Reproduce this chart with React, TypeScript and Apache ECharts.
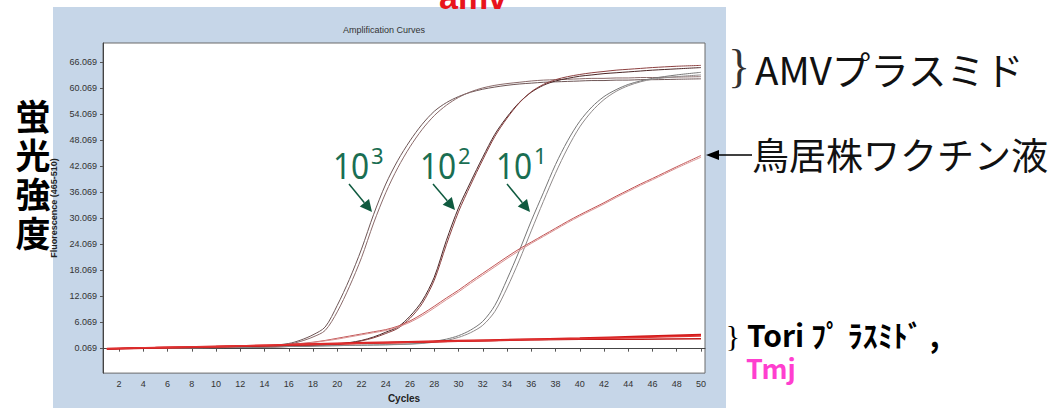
import React, { useEffect, useRef } from "react";
import * as echarts from "echarts";

// ---- data ----
const cycles = [1, 4, 8, 12, 14, 16, 17, 18, 19, 20, 21, 22, 23, 24, 25, 26, 27, 28, 29, 30, 31, 32, 33, 34, 35, 36, 37, 38, 39, 40, 41, 42, 43, 44, 45, 46, 48, 50];

const amv1000a = [0.0, 0.1, 0.2, 0.4, 0.6, 1.2, 2.0, 3.2, 5.0, 10.0, 16.0, 23.0, 31.0, 38.0, 43.5, 48.0, 51.8, 54.8, 56.8, 58.2, 59.2, 59.9, 60.4, 60.8, 61.1, 61.3, 61.5, 61.6, 61.7, 61.8, 61.9, 61.9, 62.0, 62.0, 62.1, 62.1, 62.2, 62.3];
const amv1000b = [0.0, 0.1, 0.2, 0.4, 0.5, 1.0, 1.7, 2.7, 4.2, 8.5, 14.3, 21.0, 29.0, 36.0, 41.8, 46.6, 50.6, 53.8, 56.2, 58.0, 59.3, 60.2, 60.8, 61.2, 61.5, 61.8, 62.0, 62.1, 62.2, 62.3, 62.4, 62.4, 62.5, 62.5, 62.6, 62.6, 62.7, 62.8];
const amv100a = [0.0, 0.1, 0.2, 0.3, 0.4, 0.5, 0.6, 0.7, 0.9, 1.1, 1.4, 1.9, 2.7, 3.8, 5.0, 7.5, 11.0, 16.5, 25.0, 32.5, 38.5, 44.2, 49.5, 53.5, 56.8, 59.2, 60.8, 61.8, 62.4, 62.9, 63.2, 63.5, 63.7, 63.9, 64.1, 64.3, 64.6, 64.9];
const amv100b = [0.0, 0.1, 0.2, 0.3, 0.4, 0.5, 0.6, 0.7, 0.8, 1.0, 1.3, 1.8, 2.5, 3.5, 4.7, 7.0, 10.4, 15.8, 24.0, 31.6, 37.8, 43.6, 49.0, 53.2, 56.7, 59.3, 61.0, 62.1, 62.8, 63.3, 63.7, 64.0, 64.3, 64.5, 64.7, 64.9, 65.2, 65.4];
const amv10a = [0.0, 0.1, 0.2, 0.3, 0.4, 0.5, 0.55, 0.6, 0.65, 0.7, 0.75, 0.8, 0.85, 0.9, 1.0, 1.1, 1.3, 1.7, 2.2, 3.0, 4.3, 6.3, 10.0, 16.0, 22.5, 29.5, 36.0, 42.5, 48.0, 52.5, 55.8, 58.2, 59.8, 61.0, 61.8, 62.4, 63.2, 63.8];
const amv10b = [0.0, 0.1, 0.2, 0.3, 0.4, 0.5, 0.55, 0.6, 0.65, 0.7, 0.75, 0.8, 0.85, 0.9, 0.95, 1.05, 1.2, 1.5, 1.9, 2.6, 3.7, 5.4, 8.6, 14.0, 20.3, 27.2, 34.0, 40.5, 46.3, 51.2, 54.8, 57.5, 59.4, 60.7, 61.6, 62.2, 62.8, 63.2];
const vaccineA = [0.0, 0.1, 0.3, 0.5, 0.7, 1.0, 1.2, 1.5, 1.9, 2.4, 2.9, 3.4, 3.9, 4.4, 5.2, 6.4, 8.0, 9.8, 11.7, 13.5, 15.5, 17.4, 19.3, 21.2, 23.0, 24.6, 26.2, 27.8, 29.4, 30.9, 32.3, 33.7, 35.2, 36.6, 38.0, 39.3, 42.0, 44.6];
const vaccineB = [0.0, 0.1, 0.3, 0.5, 0.6, 0.9, 1.1, 1.4, 1.8, 2.2, 2.7, 3.2, 3.7, 4.2, 5.0, 6.1, 7.6, 9.4, 11.3, 13.1, 15.1, 17.0, 18.9, 20.8, 22.6, 24.3, 25.9, 27.5, 29.1, 30.6, 32.0, 33.4, 34.9, 36.3, 37.7, 39.0, 41.7, 44.2];

const redCycles = [1, 5, 10, 15, 20, 25, 30, 35, 40, 45, 50];
const toriA = [0.0, 0.2, 0.5, 0.8, 1.2, 1.5, 1.8, 2.1, 2.4, 2.8, 3.2];
const toriB = [-0.1, 0.2, 0.45, 0.75, 1.1, 1.4, 1.7, 2.0, 2.2, 2.2, 2.3];
const tmj = [0.0, 0.25, 0.5, 0.85, 1.15, 1.45, 1.75, 2.05, 2.3, 2.6, 2.9];

const xTicks = [2, 4, 6, 8, 10, 12, 14, 16, 18, 20, 22, 24, 26, 28, 30, 32, 34, 36, 38, 40, 42, 44, 46, 48, 50];
const yTicks = [0.069, 6.069, 12.069, 18.069, 24.069, 30.069, 36.069, 42.069, 48.069, 54.069, 60.069, 66.069];

const yTitleChars = ["蛍", "光", "強", "度"];
const dilutionLabels = [
  { base: "10", exp: "3" },
  { base: "10", exp: "2" },
  { base: "10", exp: "1" },
];

const pairs = (xs: number[], ys: number[]) => xs.map((x, i) => [x, ys[i]]);

const GREEN = "#1a6e52";
const ARROW_GREEN = "#0f5a3f";

function arrowEls(sx: number, sy: number, tx: number, ty: number, color: string) {
  const dx = tx - sx, dy = ty - sy;
  const len = Math.hypot(dx, dy);
  const ux = dx / len, uy = dy / len;
  const hl = 12, hw = 6;
  const bx = tx - ux * hl, by = ty - uy * hl;
  return [
    { type: "line", shape: { x1: sx, y1: sy, x2: bx, y2: by }, style: { stroke: color, lineWidth: 1.5 } },
    { type: "polygon", shape: { points: [[tx, ty], [bx + uy * hw, by - ux * hw], [bx - uy * hw, by + ux * hw]] }, style: { fill: color } },
  ];
}

export default function App() {
  const ref = useRef<HTMLDivElement>(null);
  useEffect(() => {
    if (!ref.current) return;
    const chart = echarts.init(ref.current, null, { renderer: "svg" });
    const lineSeries = (name: string, data: number[][], color: string, width = 1) => ({
      type: "line",
      name,
      data,
      showSymbol: false,
      symbol: "none",
      smooth: 0.3,
      lineStyle: { color, width },
      silent: true,
    });
    const jp = "'Noto Sans CJK JP', sans-serif";
    const labelX = [333, 420, 496];
    const labelEls: any[] = [];
    dilutionLabels.forEach((d, i) => {
      labelEls.push({ type: "text", x: labelX[i], y: 165, scaleX: 0.88, style: { text: d.base, fontSize: 36, fill: GREEN, align: "left", verticalAlign: "middle", fontFamily: "Noto Sans" } });
      labelEls.push({ type: "text", x: labelX[i] + 38, y: 155, style: { text: d.exp, fontSize: 22, fill: GREEN, align: "left", verticalAlign: "middle", fontFamily: "Noto Sans" } });
    });
    const yTitleEls = yTitleChars.map((ch, i) => ({
      type: "text", x: 33, y: 114 + i * 39,
      style: { text: ch, fontSize: 35, lineHeight: 38, fontWeight: "bold", fill: "#000", align: "center", verticalAlign: "middle", fontFamily: jp },
    }));
    chart.setOption({
      animation: false,
      grid: {
        left: 103, top: 43, width: 602, height: 334,
        show: true, backgroundColor: "#ffffff", borderColor: "#6a6a6a", borderWidth: 1,
      },
      xAxis: {
        type: "value",
        min: 0.68, max: 50.33,
        name: "Cycles",
        nameLocation: "middle",
        nameGap: 19,
        nameTextStyle: { fontSize: 10, fontWeight: "bold", color: "#222", fontFamily: "Liberation Sans" },
        axisLine: { show: true, lineStyle: { color: "#444" } },
        axisTick: { show: true, length: 3, customValues: xTicks, lineStyle: { color: "#555" } },
        axisLabel: { customValues: xTicks, fontSize: 9, color: "#333", margin: 6, fontFamily: "Liberation Sans" },
        splitLine: { show: false },
      },
      yAxis: {
        type: "value",
        min: -5.64, max: 70.57,
        name: "Fluorescence (465-510)",
        nameLocation: "middle",
        nameGap: 40,
        nameTextStyle: { fontSize: 9, fontWeight: "bold", color: "#222", fontFamily: "Liberation Sans" },
        axisLine: { show: true, lineStyle: { color: "#444" } },
        axisTick: { show: true, length: 3, customValues: yTicks, lineStyle: { color: "#555" } },
        axisLabel: {
          customValues: yTicks, fontSize: 9, color: "#333", margin: 6, fontFamily: "Liberation Sans",
          formatter: (v: number) => v.toFixed(3),
        },
        splitLine: { show: false },
      },
      series: [
        lineSeries("10^3 a", pairs(cycles, amv1000a), "#6e5656"),
        lineSeries("10^3 b", pairs(cycles, amv1000b), "#8a6a6a"),
        lineSeries("10^2 a", pairs(cycles, amv100a), "#4a2626"),
        lineSeries("10^2 b", pairs(cycles, amv100b), "#8c4040"),
        lineSeries("10^1 a", pairs(cycles, amv10a), "#777777"),
        lineSeries("10^1 b", pairs(cycles, amv10b), "#8f8a8a"),
        lineSeries("鳥居株ワクチン液 a", pairs(cycles, vaccineA), "#c25555"),
        lineSeries("鳥居株ワクチン液 b", pairs(cycles, vaccineB), "#d99090"),
        lineSeries("Tori a", pairs(redCycles, toriA), "#d01818", 2),
        lineSeries("Tori b", pairs(redCycles, toriB), "#c01c1c", 1.5),
        lineSeries("Tmj", pairs(redCycles, tmj), "#e23030", 1.5),
      ],
      graphic: [
        { type: "rect", z: -10, silent: true, shape: { x: 53, y: 7, width: 673, height: 401 }, style: { fill: "#c6d6e8" } },
        { type: "text", x: 473, y: 14, style: { text: "amv", fontSize: 34, fontWeight: "bold", fill: "#e8141c", align: "center", verticalAlign: "bottom", fontFamily: "Liberation Sans" } },
        { type: "text", x: 384, y: 30, style: { text: "Amplification Curves", fontSize: 9, fill: "#333", align: "center", verticalAlign: "middle", fontFamily: "Liberation Sans" } },
        ...yTitleEls,
        { type: "text", x: 739, y: 66, style: { text: "}", fontSize: 46, fill: "#333", align: "center", verticalAlign: "middle", fontFamily: "Liberation Serif" } },
        { type: "text", x: 755, y: 68, style: { text: "AMVプラスミド", fontSize: 38.5, fill: "#111", align: "left", verticalAlign: "middle", fontFamily: jp } },
        { type: "line", shape: { x1: 716, y1: 155, x2: 752, y2: 155 }, style: { stroke: "#000", lineWidth: 1.5 } },
        { type: "polygon", shape: { points: [[706, 155], [719, 150], [719, 160]] }, style: { fill: "#000" } },
        { type: "text", x: 752, y: 154, style: { text: "鳥居株ワクチン液", fontSize: 37, fill: "#111", align: "left", verticalAlign: "middle", fontFamily: jp } },
        { type: "text", x: 733, y: 335, style: { text: "}", fontSize: 30, fill: "#000", align: "center", verticalAlign: "middle", fontFamily: "Liberation Serif" } },
        { type: "text", x: 747, y: 334, style: { text: "Tori ﾌﾟ ﾗｽﾐﾄﾞ ,", fontSize: 30, fontWeight: "bold", fill: "#000", align: "left", verticalAlign: "middle", fontFamily: jp } },
        { type: "text", x: 746, y: 367, style: { text: "Tmj", fontSize: 27, fontWeight: "bold", fill: "#ff3fcf", align: "left", verticalAlign: "middle", fontFamily: jp } },
        ...labelEls,
        ...arrowEls(349, 184, 372, 212, ARROW_GREEN),
        ...arrowEls(433, 184, 455, 210, ARROW_GREEN),
        ...arrowEls(507, 184, 530, 212, ARROW_GREEN),
      ],
    });
    return () => chart.dispose();
  }, []);
  return <div ref={ref} style={{ position: "absolute", left: 0, top: 0, width: 1052, height: 408, background: "#fff" }} />;
}
